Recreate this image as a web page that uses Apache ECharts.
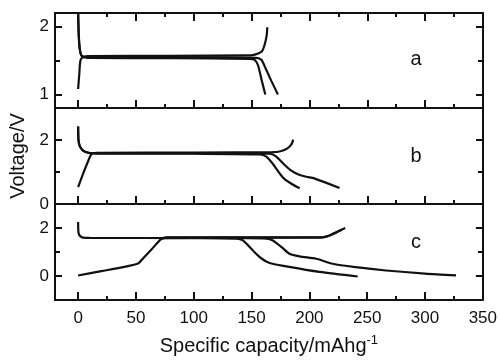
<!DOCTYPE html>
<html>
<head>
<meta charset="utf-8">
<script src="https://cdn.jsdelivr.net/npm/echarts@6/dist/echarts.min.js"></script>
<style>
  html, body { margin: 0; padding: 0; background: #fff; }
  #chart { width: 500px; height: 360px; }
</style>
</head>
<body>
<div id="chart"></div>
<script>
// x ticks (specific capacity, mAh/g)
const xMajor = [0, 50, 100, 150, 200, 250, 300, 350];
const xMinor = [25, 75, 125, 175, 225, 275, 325];

// panel a
const aCharge = [[0, 1.08], [1, 1.3], [2.4, 1.52], [8, 1.565], [80, 1.57], [145, 1.575], [151, 1.58], [158.6, 1.63], [161, 1.72], [163, 1.87], [163.5, 1.99]];
const aDis1 = [[0, 2.2], [0.6, 1.85], [1.5, 1.66], [3, 1.57], [8, 1.54], [80, 1.535], [148, 1.525], [152.6, 1.51], [155.5, 1.43], [158.5, 1.22], [161.8, 1.0]];
const aDis2 = [[0, 2.2], [0.6, 1.85], [1.5, 1.66], [3, 1.57], [8, 1.55], [80, 1.55], [154, 1.54], [158.4, 1.51], [162.7, 1.36], [167, 1.2], [172.7, 1.0]];

// panel b
const bCharge = [[0, 0.53], [4, 0.92], [8, 1.28], [11.6, 1.56], [16, 1.6], [100, 1.61], [168, 1.62], [175, 1.65], [181, 1.74], [184.5, 1.87], [186, 2.01]];
const bDis1 = [[0, 2.42], [0.3, 2.0], [1.5, 1.8], [4.3, 1.67], [9, 1.6], [16, 1.575], [100, 1.57], [157, 1.55], [162.7, 1.48], [168.4, 1.25], [177, 0.83], [184, 0.64], [191.5, 0.49]];
const bDis2 = [[0, 2.42], [0.3, 2.0], [1.5, 1.8], [4.3, 1.67], [9, 1.6], [16, 1.59], [100, 1.59], [166, 1.57], [171.3, 1.48], [178, 1.24], [184.3, 1.04], [190, 0.93], [197.2, 0.85], [204, 0.8], [226, 0.5]];

// panel c
const cCharge1 = [[0, 0.02], [20, 0.2], [40, 0.38], [51.8, 0.52], [54, 0.62], [63, 1.08], [72, 1.55], [77, 1.61], [150, 1.61], [212, 1.62], [216, 1.66], [221.7, 1.79], [231, 2.0]];
const cCharge2 = [[72, 1.55], [77, 1.6], [150, 1.6], [210, 1.6], [214, 1.64], [220, 1.74], [228, 1.93]];
const cDis1 = [[0, 2.25], [0.4, 1.78], [2, 1.65], [4.3, 1.6], [10, 1.585], [100, 1.58], [137, 1.56], [142.5, 1.48], [151, 1.07], [158, 0.75], [165.5, 0.54], [180, 0.4], [208.7, 0.17], [241.8, -0.02]];
const cDis2 = [[72, 1.58], [120, 1.585], [163, 1.56], [168.4, 1.48], [176, 1.2], [182.8, 0.93], [191.5, 0.82], [205.9, 0.72], [220.2, 0.51], [240, 0.37], [266.3, 0.23], [300, 0.1], [326.8, 0.03]];

// y ranges and ticks for each panel
const yMin = [0.8, 0, -1];
const yMax = [2.2, 3, 3];
const yMajor = [[1, 2], [0, 2], [0, 2]];
const yMinor = [[1.5], [1], [1]];
const tags = ['a', 'b', 'c'];
const curves = [[aCharge, aDis1, aDis2], [bCharge, bDis1, bDis2], [cCharge1, cCharge2, cDis1, cDis2]];

const panelTop = [13, 108, 204];
const panelHeight = [95, 96, 96];
const FONT = 'Liberation Sans, Arial, sans-serif';
const INK = '#111';

const chart = echarts.init(document.getElementById('chart'));

const grid = [], xAxis = [], yAxis = [], series = [];

for (let p = 0; p < 3; p++) {
  // two stacked grids per panel: one for frame + major ticks, one for short minor ticks
  for (let m = 0; m < 2; m++) {
    const major = m === 0;
    const g = grid.length;
    grid.push({ left: 55, right: 17, top: panelTop[p], height: panelHeight[p] });
    const line = { show: major, onZero: false, lineStyle: { color: INK, width: 2 } };
    const xt = major ? xMajor : xMinor;
    const yt = major ? yMajor[p] : yMinor[p];
    const xLen = major ? 8 : 4;
    const yLen = major ? 7 : 5;
    const tick = (vals, len, show) => ({ show, inside: true, length: len, customValues: vals, lineStyle: { color: INK, width: 2 } });

    const bottom = {
      type: 'value', gridIndex: g, position: 'bottom', min: -20, max: 350,
      axisLine: line, axisTick: tick(xt, xLen, true), splitLine: { show: false },
      axisLabel: { show: major && p === 2, customValues: xMajor, margin: 10, color: INK, fontSize: 17, fontFamily: FONT }
    };
    if (major && p === 2) {
      bottom.name = '{t|Specific capacity/mAhg}{s|-1}';
      bottom.nameLocation = 'middle';
      bottom.nameGap = 34;
      bottom.nameTextStyle = {
        rich: {
          t: { fontSize: 20, fontFamily: FONT, color: INK },
          s: { fontSize: 13, fontFamily: FONT, color: INK, padding: [0, 0, 12, 0] }
        }
      };
    }
    xAxis.push(bottom);
    xAxis.push({
      type: 'value', gridIndex: g, position: 'top', min: -20, max: 350,
      axisLine: line, axisTick: tick(xt, xLen, p === 0), splitLine: { show: false },
      axisLabel: { show: false }
    });

    const left = {
      type: 'value', gridIndex: g, position: 'left', min: yMin[p], max: yMax[p],
      axisLine: line, axisTick: tick(yt, yLen, true), splitLine: { show: false },
      axisLabel: { show: major, customValues: yMajor[p], margin: 6, color: INK, fontSize: 17, fontFamily: FONT }
    };
    if (major && p === 1) {
      left.name = 'Voltage/V';
      left.nameLocation = 'middle';
      left.nameGap = 26;
      left.nameTextStyle = { fontSize: 20, fontFamily: FONT, color: INK };
    }
    yAxis.push(left);
    yAxis.push({
      type: 'value', gridIndex: g, position: 'right', min: yMin[p], max: yMax[p],
      axisLine: line, axisTick: tick(yt, yLen, true), splitLine: { show: false },
      axisLabel: { show: false }
    });
  }
  curves[p].forEach(data => {
    series.push({
      type: 'line', data, xAxisIndex: 4 * p, yAxisIndex: 4 * p,
      showSymbol: false, smooth: 0.25, silent: true,
      lineStyle: { color: INK, width: 2.2 }
    });
  });
}

const tagY = [59, 156, 242];
const graphic = tags.map((t, i) => ({
  type: 'text', x: 416, y: tagY[i],
  style: { text: t, font: '20px ' + FONT, fill: INK, textAlign: 'center', textVerticalAlign: 'middle' }
}));

chart.setOption({
  animation: false,
  backgroundColor: '#fff',
  grid, xAxis, yAxis, series, graphic
});
</script>
</body>
</html>
